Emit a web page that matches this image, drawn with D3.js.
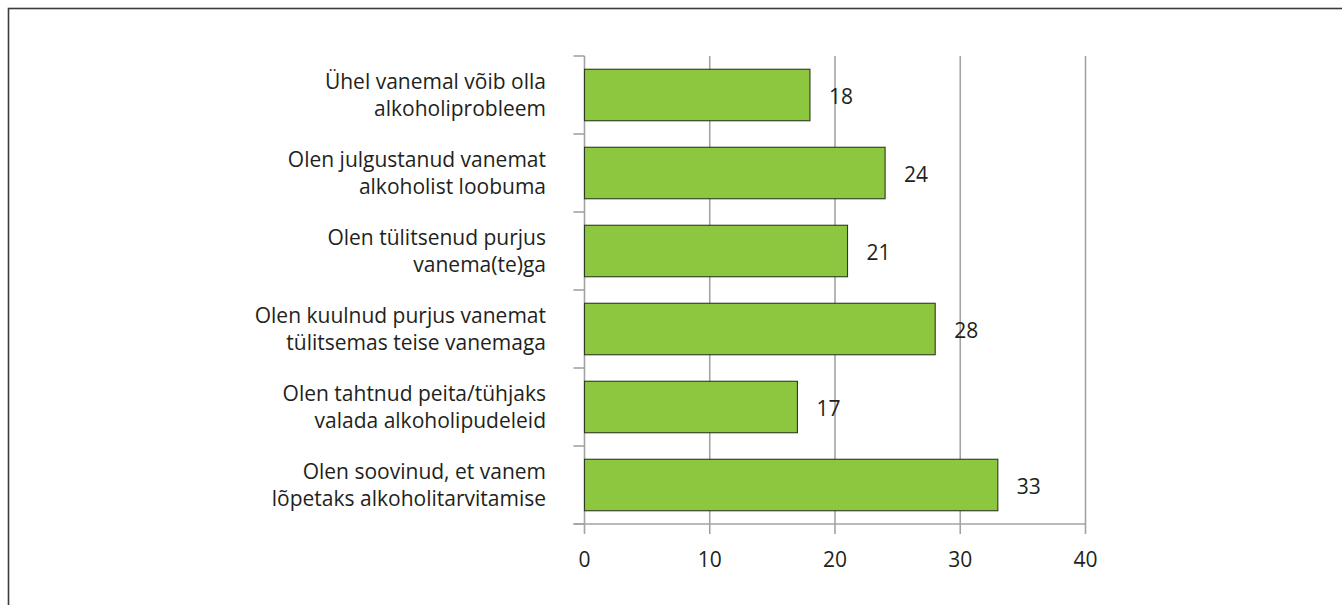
<!DOCTYPE html>
<html>
<head>
<meta charset="utf-8">
<script src="https://cdn.jsdelivr.net/npm/d3@7/dist/d3.min.js"></script>
<style>
  html, body { margin: 0; padding: 0; background: #fff; }
  svg { display: block; }
  text { font-family: "Open Sans", "DejaVu Sans", sans-serif; fill: #231f20; }
</style>
</head>
<body>
<svg id="chart" width="1342" height="605"></svg>
<script>
// Survey statements (two display lines each) and share of respondents, %
const categories = [
  ["Ühel vanemal võib olla", "alkoholiprobleem"],
  ["Olen julgustanud vanemat", "alkoholist loobuma"],
  ["Olen tülitsenud purjus", "vanema(te)ga"],
  ["Olen kuulnud purjus vanemat", "tülitsemas teise vanemaga"],
  ["Olen tahtnud peita/tühjaks", "valada alkoholipudeleid"],
  ["Olen soovinud, et vanem", "lõpetaks alkoholitarvitamise"]
];
const values = [18, 24, 21, 28, 17, 33];
const xTicks = [0, 10, 20, 30, 40];

const svg = d3.select("#chart");

// outer frame
svg.append("rect")
  .attr("x", 8.5).attr("y", 8.5)
  .attr("width", 1360).attr("height", 640)
  .attr("fill", "none").attr("stroke", "#3c3c3c").attr("stroke-width", 1.6);

const plotLeft = 584.5, plotRight = 1085.5, plotTop = 56, plotBottom = 524;
const keys = categories.map((c, i) => i);

const x = d3.scaleLinear().domain([0, 40]).range([plotLeft, plotRight]);
const y = d3.scaleBand().domain(keys).range([plotTop, plotBottom])
  .paddingInner(0.34).paddingOuter(0.17);

const gridColor = "#a3a3a5";

// vertical gridlines (extend past the baseline as tick marks)
svg.append("g").selectAll("line").data(xTicks).join("line")
  .attr("x1", d => x(d)).attr("x2", d => x(d))
  .attr("y1", plotTop).attr("y2", plotBottom + 10)
  .attr("stroke", gridColor).attr("stroke-width", 1.6);

// category axis ticks at band boundaries
const step = y.step();
const bounds = d3.range(keys.length + 1).map(i => plotTop + i * step);
svg.append("g").selectAll("line").data(bounds).join("line")
  .attr("x1", plotLeft - 11).attr("x2", plotLeft)
  .attr("y1", d => d).attr("y2", d => d)
  .attr("stroke", gridColor).attr("stroke-width", 1.6);

// value axis baseline
svg.append("line")
  .attr("x1", plotLeft - 11).attr("x2", plotRight)
  .attr("y1", plotBottom).attr("y2", plotBottom)
  .attr("stroke", gridColor).attr("stroke-width", 1.6);

// bars
svg.append("g").selectAll("rect").data(values).join("rect")
  .attr("x", x(0))
  .attr("y", (d, i) => y(i))
  .attr("width", d => x(d) - x(0))
  .attr("height", y.bandwidth())
  .attr("fill", "#8dc63f")
  .attr("stroke", "#2e3a22").attr("stroke-width", 1.1);

// value labels, centred just beyond each bar end
svg.append("g").selectAll("text").data(values).join("text")
  .attr("x", d => x(d) + 31)
  .attr("y", (d, i) => y(i) + y.bandwidth() / 2 + 9)
  .attr("text-anchor", "middle")
  .attr("font-size", 21)
  .text(d => d);

// category labels
const catG = svg.append("g").selectAll("text").data(categories).join("text")
  .attr("text-anchor", "end")
  .attr("font-size", 21)
  .attr("y", (d, i) => y(i) + y.bandwidth() / 2 - 6);
catG.selectAll("tspan").data(d => d).join("tspan")
  .attr("x", 546)
  .attr("dy", (d, j) => j === 0 ? 0 : 27)
  .text(d => d);

// value axis tick labels
svg.append("g").selectAll("text").data(xTicks).join("text")
  .attr("x", d => x(d))
  .attr("y", 567)
  .attr("text-anchor", "middle")
  .attr("font-size", 21)
  .text(d => d);
</script>
</body>
</html>
